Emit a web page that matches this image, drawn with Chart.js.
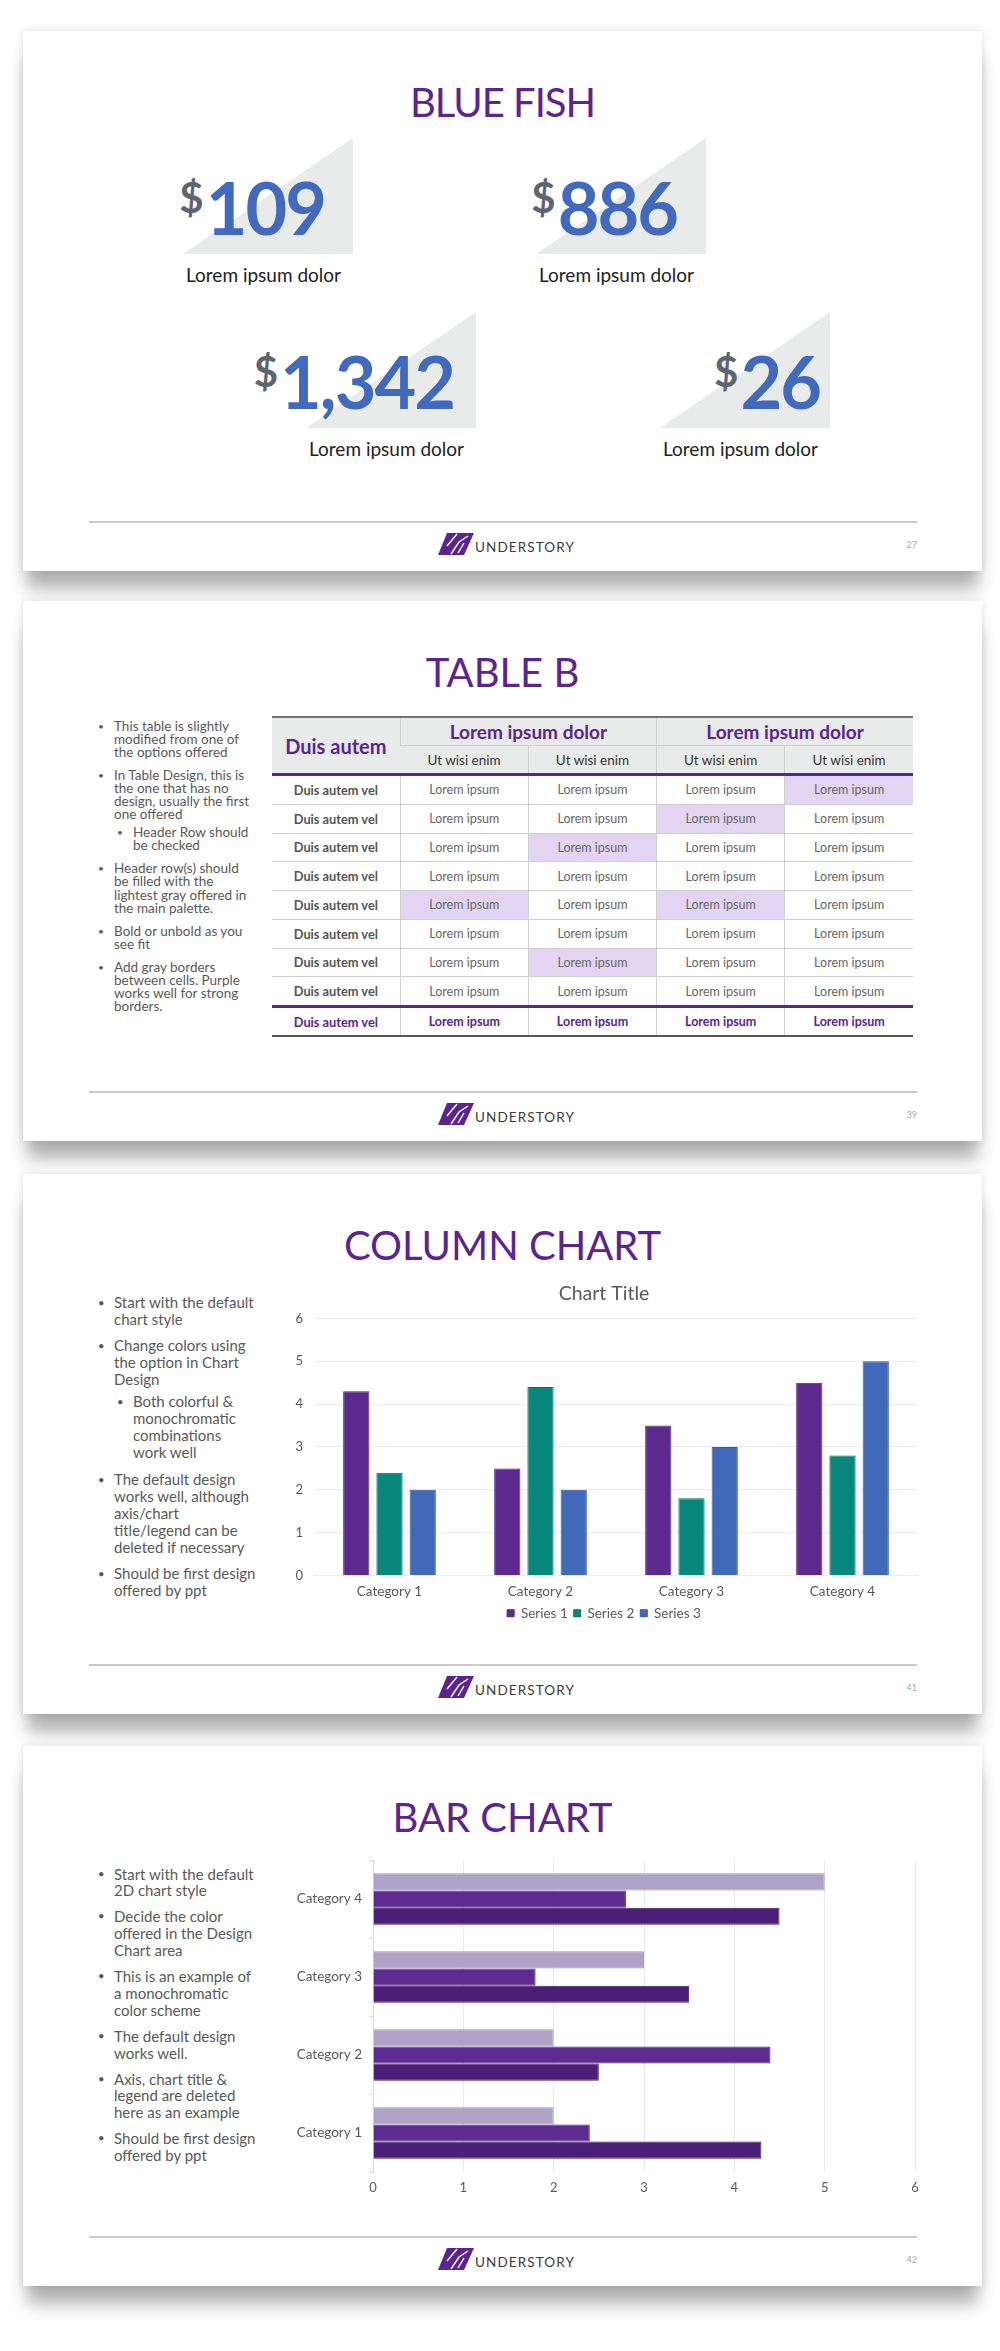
<!DOCTYPE html>
<html>
<head>
<meta charset="utf-8">
<script src="https://cdn.jsdelivr.net/npm/chart.js@4.4.1/dist/chart.umd.min.js"></script>
<style>
  html, body { margin: 0; padding: 0; background: #fff; }
  body { width: 1000px; height: 2351px; position: relative; overflow: hidden; font-family: Lato, "Noto Sans", sans-serif; }
  .card { position: absolute; left: 23px; width: 959px; height: 540px; background: #fff;
    box-shadow: 0 22px 16px -4px rgba(0,0,0,0.30), 0 0 9px rgba(0,0,0,0.12); }
  .title { position: absolute; left: 0; width: 100%; top: 51px; text-align: center;
    font-size: 40px; line-height: 40px; color: #5b2491; }
  .rule { position: absolute; left: 66px; width: 828px; top: 490px; height: 2px; background: #cacaca; }
  .logo { position: absolute; left: 415px; top: 502px; }
  .brand { position: absolute; left: 452px; top: 508px; font-size: 13.5px; line-height: 16px;
    letter-spacing: 1.1px; color: #3a3a3a; }
  .pnum { position: absolute; left: 878px; width: 16px; top: 508px; font-size: 9px; color: #a8a8a8; text-align: right; }
  .tri { position: absolute; width: 170px; height: 116px; background: #e9ebea;
    clip-path: polygon(100% 0, 100% 100%, 0 100%); }
  .stat { position: absolute; display: flex; align-items: flex-start; }
  .stat .cur { font-size: 42px; line-height: 42px; font-weight: 700; color: #5e6570; margin-top: 5px; margin-right: 2px; }
  .stat .num { font-size: 72px; line-height: 72px; font-weight: 700; color: #4169be; letter-spacing: -2px; }
  .cap { position: absolute; font-size: 19px; line-height: 19px; color: #222; }
  .notes { position: absolute; left: 91px; color: #595959; white-space: nowrap; }
  .notes .it { position: relative; }
  .notes .dot { position: absolute; left: -16px; font-size: 0.75em; }
  table.tb { position: absolute; left: 249px; top: 115px; width: 641px; border-collapse: collapse; table-layout: fixed; }
  .tb td { padding: 0; text-align: center; vertical-align: middle; border-left: 1px solid #d0d0d0; white-space: nowrap; }
  .tb td:first-child { border-left: none; }
  .tb thead td { background: #e9ebea; }
  .tb thead tr.h1 td { border-top: 2px solid #737373; height: 27px; }
  .tb thead tr.h2 td { border-top: 1px solid #d0d0d0; height: 27px; border-bottom: 3px solid #5b2491; }
  .tb thead td.corner { border-bottom: 3px solid #5b2491; font-size: 20px; font-weight: 700; color: #5b2491; }
  .tb .grp { font-size: 19px; font-weight: 700; color: #5b2491; }
  .tb .sub { font-size: 13.5px; color: #333; }
  .tb tbody td { height: 27.75px; border-bottom: 1px solid #d0d0d0; font-size: 12.5px; color: #666; }
  .tb tbody td.lab { font-size: 12.8px; font-weight: 700; color: #555; }
  .tb tbody td.hl { background: #e2d4f2; }
  .tb tfoot td { height: 27px; border-top: 3px solid #5b2491; border-bottom: 2px solid #555;
    font-size: 12.5px; font-weight: 700; color: #5b2491; }
  .tb tfoot td.lab { font-size: 12.8px; }
  .chartbox { position: absolute; }
</style>
</head>
<body>

<div class="card" id="s1" style="top:31px"><div class="title" style="letter-spacing:-1px">BLUE FISH</div></div>
<div class="card" id="s2" style="top:601px"><div class="title">TABLE B</div></div>
<div class="card" id="s3" style="top:1174px"><div class="title">COLUMN CHART</div>
  <div class="chartbox" style="left:267px;top:106px;width:636px;height:350px"><canvas id="columnChart"></canvas></div>
</div>
<div class="card" id="s4" style="top:1746px"><div class="title">BAR CHART</div>
  <div class="chartbox" style="left:267px;top:99px;width:640px;height:360px"><canvas id="barChart"></canvas></div>
</div>

<script>
// chart data
const categories = ["Category 1", "Category 2", "Category 3", "Category 4"];
const series1 = [4.3, 2.5, 3.5, 4.5];
const series2 = [2.4, 4.4, 1.8, 2.8];
const series3 = [2, 2, 3, 5];
const seriesNames = ["Series 1", "Series 2", "Series 3"];
const valueTicks = [0, 1, 2, 3, 4, 5, 6];

// slide 1 figures
const statValues = ["109", "886", "1,342", "26"];
const statCaption = "Lorem ipsum dolor";

// table B
const cornerHead = "Duis autem";
const groupHeads = ["Lorem ipsum dolor", "Lorem ipsum dolor"];
const subHeads = ["Ut wisi enim", "Ut wisi enim", "Ut wisi enim", "Ut wisi enim"];
const rowLabel = "Duis autem vel";
const cellText = "Lorem ipsum";
const bodyRows = 8;
const highlighted = [[0, 3], [1, 2], [2, 1], [4, 0], [4, 2], [6, 1]];

const pageNumbers = ["27", "39", "41", "42"];

const notes2 = [
  { lines: ["This table is slightly", "modified from one of", "the options offered"] },
  { lines: ["In Table Design, this is", "the one that has no", "design, usually the first", "one offered"] },
  { sub: true, lines: ["Header Row should", "be checked"] },
  { lines: ["Header row(s) should", "be filled with the", "lightest gray offered in", "the main palette."] },
  { lines: ["Bold or unbold as you", "see fit"] },
  { lines: ["Add gray borders", "between cells. Purple", "works well for strong", "borders."] },
];
const notes3 = [
  { lines: ["Start with the default", "chart style"] },
  { lines: ["Change colors using", "the option in Chart", "Design"] },
  { sub: true, lines: ["Both colorful &", "monochromatic", "combinations", "work well"] },
  { lines: ["The default design", "works well, although", "axis/chart", "title/legend can be", "deleted if necessary"] },
  { lines: ["Should be first design", "offered by ppt"] },
];
const notes4 = [
  { lines: ["Start with the default", "2D chart style"] },
  { lines: ["Decide the color", "offered in the Design", "Chart area"] },
  { lines: ["This is an example of", "a monochromatic", "color scheme"] },
  { lines: ["The default design", "works well."] },
  { lines: ["Axis, chart title &", "legend are deleted", "here as an example"] },
  { lines: ["Should be first design", "offered by ppt"] },
];

const purple = "#5b2491";
const textGray = "#595959";

// footer on every slide
const logoSvg =
  '<svg width="36" height="22" viewBox="0 0 36 22">' +
  '<polygon points="9,0 36,0 26,22 0,22" fill="' + purple + '"/>' +
  '<path d="M19 1 L9 13 M30 3 L21 9 L13 21 M26 10 L20 20" stroke="#fff" stroke-width="1.4" fill="none"/>' +
  "</svg>";
["s1", "s2", "s3", "s4"].forEach((id, i) => {
  const card = document.getElementById(id);
  card.insertAdjacentHTML(
    "beforeend",
    '<div class="rule"></div><div class="logo">' + logoSvg +
      '</div><div class="brand">UNDERSTORY</div><div class="pnum">' + pageNumbers[i] + "</div>",
  );
});

// slide 1: price blocks
const statSlots = [
  { left: 160, top: 107, right: 302 },
  { left: 513, top: 107, right: 654 },
  { left: 283, top: 281, right: 431 },
  { left: 637, top: 281, right: 797 },
];
const s1 = document.getElementById("s1");
statValues.forEach((v, i) => {
  const p = statSlots[i];
  s1.insertAdjacentHTML(
    "beforeend",
    `<div class="tri" style="left:${p.left}px;top:${p.top}px"></div>` +
      `<div class="stat" style="right:${959 - p.right}px;top:${p.top + 33}px"><span class="cur">$</span><span class="num">${v}</span></div>` +
      `<div class="cap" style="left:${p.left + 3}px;top:${p.top + 127}px">${statCaption}</div>`,
  );
});

// bullet notes
function addNotes(card, items, top, size, lineH, gap, subGap) {
  let html = `<div class="notes" style="top:${top}px;font-size:${size}px;line-height:${lineH}px">`;
  items.forEach((it, i) => {
    const mt = i === 0 ? 0 : it.sub ? subGap : gap;
    const ml = it.sub ? 19 : 0;
    html += `<div class="it" style="margin-top:${mt}px;margin-left:${ml}px"><span class="dot">&bull;</span>${it.lines.join("<br>")}</div>`;
  });
  html += "</div>";
  document.getElementById(card).insertAdjacentHTML("beforeend", html);
}
addNotes("s2", notes2, 118.5, 13.5, 13.1, 10, 5);
addNotes("s3", notes3, 119.5, 15, 17, 9.5, 5);
addNotes("s4", notes4, 119.5, 15, 16.9, 9, 5);

// slide 2: table
let t = '<table class="tb"><thead><tr class="h1">';
t += `<td class="corner" rowspan="2">${cornerHead}</td>`;
groupHeads.forEach((g) => (t += `<td class="grp" colspan="2">${g}</td>`));
t += '</tr><tr class="h2">';
subHeads.forEach((s) => (t += `<td class="sub">${s}</td>`));
t += "</tr></thead><tbody>";
for (let r = 0; r < bodyRows; r++) {
  t += `<tr><td class="lab">${rowLabel}</td>`;
  for (let c = 0; c < subHeads.length; c++) {
    const hl = highlighted.some((h) => h[0] === r && h[1] === c);
    t += `<td${hl ? ' class="hl"' : ""}>${cellText}</td>`;
  }
  t += "</tr>";
}
t += `</tbody><tfoot><tr><td class="lab">${rowLabel}</td>`;
subHeads.forEach(() => (t += `<td>${cellText}</td>`));
t += "</tr></tfoot></table>";
document.getElementById("s2").insertAdjacentHTML("beforeend", t);

// charts
Chart.defaults.font.family = "Lato, 'Noto Sans', sans-serif";
Chart.defaults.color = textGray;

new Chart(document.getElementById("columnChart"), {
  type: "bar",
  data: {
    labels: categories,
    datasets: [
      { label: seriesNames[0], data: series1, backgroundColor: "#5c2a8e", borderColor: "#4e2279", borderWidth: 1 },
      { label: seriesNames[1], data: series2, backgroundColor: "#08887a", borderColor: "#067266", borderWidth: 1 },
      { label: seriesNames[2], data: series3, backgroundColor: "#4169b9", borderColor: "#3559a5", borderWidth: 1 },
    ],
  },
  options: {
    responsive: true,
    maintainAspectRatio: false,
    animation: false,
    datasets: { bar: { categoryPercentage: 0.66, barPercentage: 0.79 } },
    layout: { padding: { left: 0, right: 8, top: 0, bottom: 0 } },
    plugins: {
      title: {
        display: true,
        text: "Chart Title",
        color: textGray,
        font: { size: 19.5, weight: "normal" },
        padding: { top: 2, bottom: 13 },
      },
      legend: {
        position: "bottom",
        labels: { boxWidth: 7, boxHeight: 7, color: textGray, font: { size: 13.5 }, padding: 6 },
      },
      tooltip: { enabled: false },
    },
    scales: {
      x: {
        grid: { display: false, drawTicks: false },
        border: { display: false },
        ticks: { color: textGray, font: { size: 13.5 }, padding: 8 },
        afterFit: (s) => { s.height = 25; },
      },
      y: {
        min: valueTicks[0],
        max: valueTicks[valueTicks.length - 1],
        ticks: { stepSize: 1, color: textGray, font: { size: 13 }, padding: 11 },
        grid: { color: "#ebebeb", drawTicks: false },
        border: { display: false },
        afterFit: (s) => { s.width = 24; },
      },
    },
  },
});

// horizontal bar: category 4 on top, series 3 at the top of each group
new Chart(document.getElementById("barChart"), {
  type: "bar",
  data: {
    labels: categories.slice().reverse(),
    datasets: [
      { label: seriesNames[2], data: series3.slice().reverse(), backgroundColor: "#afa2c7", borderColor: "#a396bd", borderWidth: 1 },
      { label: seriesNames[1], data: series2.slice().reverse(), backgroundColor: "#5d2a90", borderColor: "#52247f", borderWidth: 1 },
      { label: seriesNames[0], data: series1.slice().reverse(), backgroundColor: "#4c1f76", borderColor: "#421a68", borderWidth: 1 },
    ],
  },
  options: {
    indexAxis: "y",
    responsive: true,
    maintainAspectRatio: false,
    animation: false,
    datasets: { bar: { categoryPercentage: 0.66, barPercentage: 1.0 } },
    layout: { padding: { left: 0, right: 15, top: 12, bottom: 0 } },
    plugins: { legend: { display: false }, title: { display: false }, tooltip: { enabled: false } },
    scales: {
      x: {
        min: valueTicks[0],
        max: valueTicks[valueTicks.length - 1],
        ticks: { stepSize: 1, color: textGray, font: { size: 13 }, padding: 8 },
        grid: { color: "#e9e9e9", drawTicks: false },
        border: { display: false },
        afterFit: (s) => { s.height = 33; },
      },
      y: {
        grid: { drawOnChartArea: false, drawTicks: true, tickLength: 4, color: "#d9d9d9", offset: true },
        border: { display: true, color: "#d9d9d9" },
        ticks: { color: textGray, font: { size: 13.5 }, padding: 7 },
        afterFit: (s) => { s.width = 83; },
      },
    },
  },
});
</script>
</body>
</html>
